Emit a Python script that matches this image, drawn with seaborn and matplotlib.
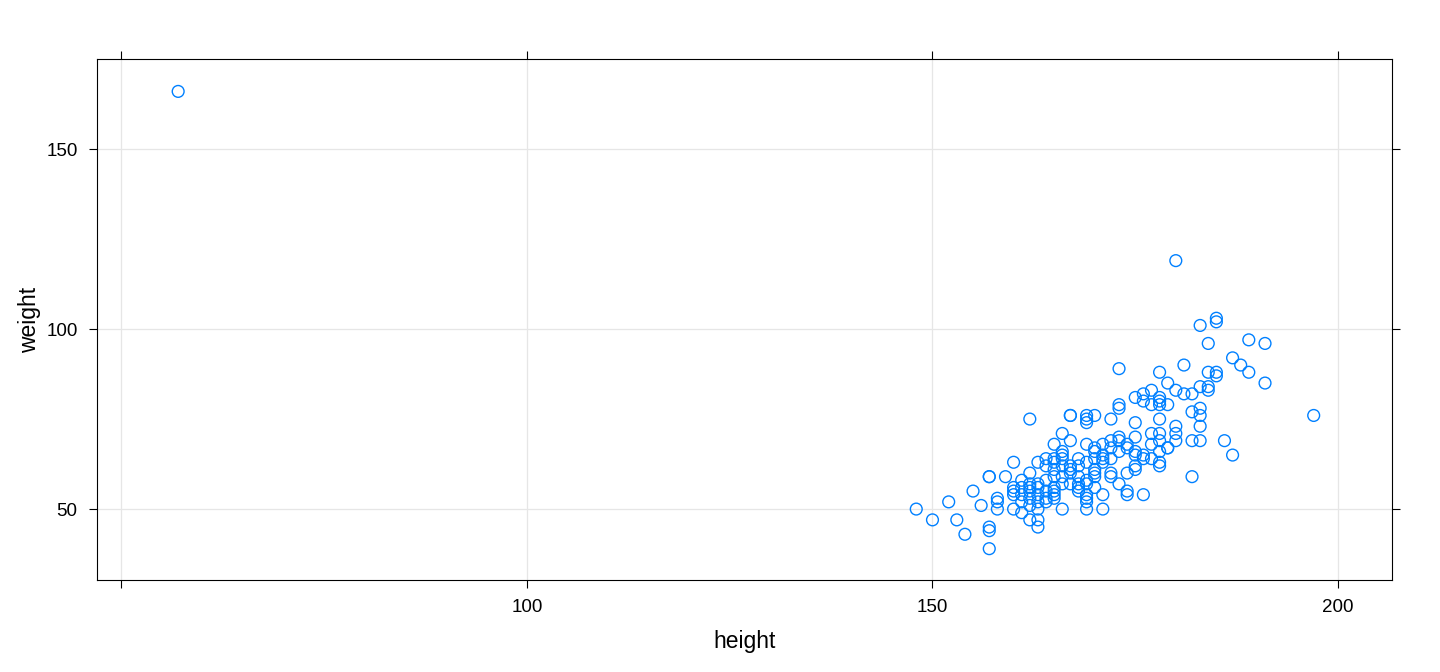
import pandas as pd
import seaborn as sns
import matplotlib.pyplot as plt

height = [148, 150, 152, 153, 154, 155, 156, 157, 157, 157, 157, 157, 158, 158, 158, 159,
          160, 160, 160, 160, 160, 161, 161, 161, 161, 161,
          162, 162, 162, 162, 162, 162, 162, 162,
          163, 163, 163, 163, 163, 163, 163, 163,
          164, 164, 164, 164, 164, 164,
          165, 165, 165, 165, 165, 165, 165, 165, 165,
          166, 166, 166, 166, 166, 166, 166, 166,
          167, 167, 167, 167, 167, 167, 167,
          168, 168, 168, 168, 168, 168,
          169, 169, 169, 169, 169, 169, 169, 169, 169, 169, 169,
          170, 170, 170, 170, 170, 170, 170, 170,
          171, 171, 171, 171, 171, 171,
          172, 172, 172, 172, 172, 172,
          173, 173, 173, 173, 173, 173, 173,
          174, 174, 174, 174, 174,
          175, 175, 175, 175, 175, 175, 175,
          176, 176, 176, 176, 176,
          177, 177, 177, 177, 177,
          178, 178, 178, 178, 178, 178, 178, 178, 178, 178,
          179, 179, 179, 179,
          180, 180, 180, 180, 180,
          181, 181, 182, 182, 182, 182,
          183, 183, 183, 183, 183, 183,
          184, 184, 184, 184, 185, 185, 185, 185,
          186, 187, 187, 188, 189, 189, 191, 191, 197, 57]
weight = [50, 47, 52, 47, 43, 55, 51, 59, 59, 45, 44, 39, 53, 52, 50, 59,
          63, 56, 55, 54, 50, 58, 56, 54, 52, 49,
          75, 60, 57, 56, 55, 53, 51, 47,
          63, 57, 56, 54, 52, 50, 47, 45,
          64, 62, 58, 55, 53, 52,
          68, 64, 63, 61, 59, 56, 55, 54, 53,
          71, 66, 65, 64, 62, 59, 57, 50,
          76, 76, 69, 62, 61, 60, 57,
          64, 62, 59, 57, 56, 55,
          76, 75, 74, 68, 63, 58, 57, 54, 53, 52, 50,
          76, 67, 66, 64, 61, 60, 59, 56,
          68, 65, 64, 63, 54, 50,
          75, 69, 67, 64, 60, 59,
          89, 79, 78, 70, 69, 66, 57,
          68, 67, 60, 55, 54,
          81, 74, 70, 66, 65, 62, 61,
          82, 80, 65, 64, 54,
          83, 79, 71, 68, 64,
          88, 81, 80, 79, 75, 71, 69, 66, 63, 62,
          85, 79, 67, 67,
          119, 83, 73, 71, 69,
          90, 82, 82, 77, 69, 59,
          101, 84, 78, 76, 73, 69,
          96, 88, 84, 83, 103, 102, 88, 87,
          69, 92, 65, 90, 97, 88, 96, 85, 76, 166]

df = pd.DataFrame({"height": height, "weight": weight})

sns.set_style("white")
plt.rcParams['font.family'] = ['Liberation Sans', 'DejaVu Sans']

fig = plt.figure(figsize=(14.4, 6.72), dpi=100)
ax = fig.add_axes([0.0674, 0.1369, 0.8993, 0.7753])
ax.grid(True, color="#e6e6e6", linewidth=0.9)
ax.set_axisbelow(True)
sns.scatterplot(data=df, x="height", y="weight", ax=ax, s=72,
                facecolors="none", edgecolor="#0080ff", linewidth=1.0)
ax.set_xlim(47.0, 206.66)
ax.set_ylim(30.3, 175)
ax.set_xticks([50, 100, 150, 200])
ax.set_xticklabels(["", "100", "150", "200"])
ax.set_yticks([50, 100, 150])
for s in ax.spines.values():
    s.set_visible(True)
    s.set_color("black")
    s.set_linewidth(0.8)
ax.tick_params(direction="out", length=6, width=0.8, labelsize=13.5,
               colors="black", bottom=True, left=True,
               top=True, right=True, labeltop=False, labelright=False, pad=8)
ax.set_xlabel("height", fontsize=16.5, labelpad=10, color="black")
ax.set_ylabel("weight", fontsize=16.5, labelpad=4, color="black")
fig.savefig("out.png", dpi=100)
